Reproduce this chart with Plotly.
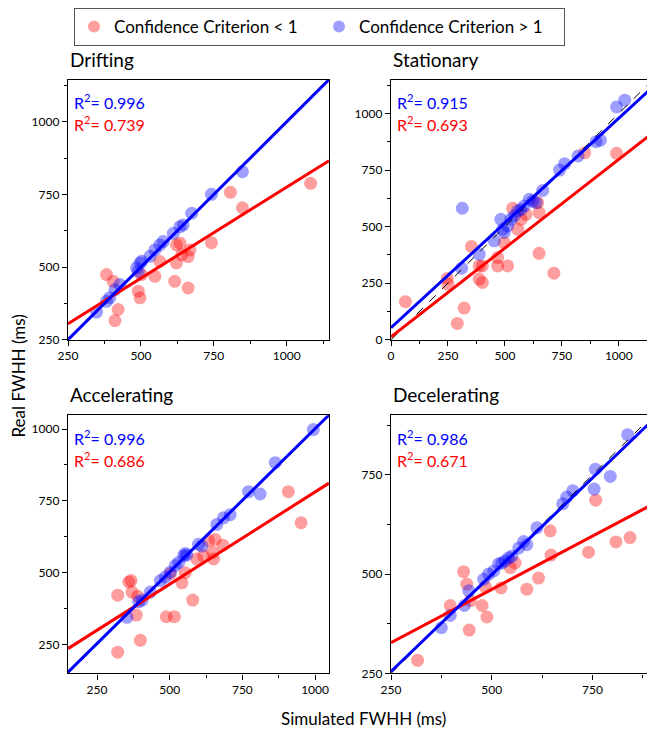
import plotly.graph_objects as go
from plotly.subplots import make_subplots

# ---- data (ms) ----
panel_names = ['Drifting', 'Stationary', 'Accelerating', 'Decelerating']

drift_lo_x = [382, 405, 422, 411, 491, 497, 502, 548, 565, 616, 622, 622, 634, 640, 662, 668, 662, 742, 807, 848, 1082]
drift_lo_y = [474, 451, 354, 316, 417, 394, 474, 468, 519, 451, 514, 576, 582, 542, 536, 559, 428, 584, 757, 704, 788]
drift_hi_x = [348, 382, 393, 411, 428, 491, 497, 485, 503, 531, 548, 565, 577, 611, 634, 645, 674, 742, 848]
drift_hi_y = [345, 382, 394, 422, 440, 485, 514, 497, 520, 537, 559, 576, 588, 616, 639, 645, 685, 750, 828]

stat_lo_x = [63, 247, 250, 291, 321, 353, 387, 401, 387, 401, 468, 468, 512, 497, 534, 556, 571, 593, 644, 650, 650, 715, 850, 990]
stat_lo_y = [168, 271, 246, 72, 140, 412, 326, 326, 268, 253, 363, 326, 326, 429, 581, 488, 532, 554, 606, 562, 382, 294, 826, 824]
stat_hi_x = [313, 310, 387, 453, 482, 490, 497, 512, 526, 541, 556, 571, 585, 607, 622, 637, 666, 740, 762, 821, 900, 919, 990, 1026]
stat_hi_y = [581, 316, 378, 437, 532, 488, 474, 503, 532, 547, 569, 576, 591, 621, 613, 606, 660, 750, 778, 812, 875, 882, 1029, 1059]

acc_lo_x = [321, 321, 359, 367, 370, 390, 385, 399, 488, 516, 502, 542, 553, 579, 593, 616, 634, 648, 656, 683, 651, 908, 952]
acc_lo_y = [422, 224, 468, 473, 433, 418, 353, 265, 347, 347, 496, 465, 500, 405, 548, 559, 611, 571, 616, 596, 548, 782, 674]
acc_hi_x = [353, 393, 405, 433, 468, 485, 502, 519, 531, 548, 553, 559, 599, 611, 662, 685, 708, 771, 811, 863, 994]
acc_hi_y = [345, 399, 405, 433, 473, 485, 502, 525, 536, 559, 567, 562, 599, 593, 668, 691, 702, 782, 774, 883, 998]

dec_lo_x = [316, 397, 430, 438, 444, 447, 476, 488, 484, 523, 546, 558, 587, 616, 645, 647, 740, 758, 808, 843]
dec_lo_y = [283, 421, 506, 475, 359, 433, 421, 392, 468, 465, 516, 528, 462, 490, 609, 548, 555, 686, 581, 592]
dec_hi_x = [375, 397, 432, 443, 480, 492, 505, 517, 525, 533, 542, 550, 567, 579, 587, 612, 676, 686, 701, 754, 757, 794, 837]
dec_hi_y = [365, 396, 421, 458, 487, 500, 508, 526, 528, 533, 541, 545, 566, 582, 574, 617, 677, 694, 710, 714, 764, 746, 851]

lo_x = [drift_lo_x, stat_lo_x, acc_lo_x, dec_lo_x]
lo_y = [drift_lo_y, stat_lo_y, acc_lo_y, dec_lo_y]
hi_x = [drift_hi_x, stat_hi_x, acc_hi_x, dec_hi_x]
hi_y = [drift_hi_y, stat_hi_y, acc_hi_y, dec_hi_y]

# regression lines (slope, intercept) and R^2 as printed
r2_hi = ['0.996', '0.915', '0.996', '0.986']
r2_lo = ['0.739', '0.693', '0.686', '0.671']
hi_slope = [1.0, 0.926, 0.996, 0.975]
hi_icpt = [0, 53, 5, 11]
lo_slope = [0.627, 0.784, 0.641, 0.537]
lo_icpt = [148, 13, 140, 193]

RED = '#ff0000'
BLUE = '#0000ff'
FONT = 'Lato, "Open Sans", sans-serif'

axis_ranges = [[250, 1145], [0, 1150], [150, 1048], [250, 900]]

# page body adds an 8px margin, so the figure is a bit smaller than the window
OFF = 8
W, H = 655 - OFF, 733 - OFF


def fx(px):
    return (px - OFF) / W


def fy(py):
    return 1 - (py - OFF) / H


x_domains = [[fx(68), fx(329)], [fx(391), fx(653)], [fx(68), fx(329)], [fx(391), fx(653)]]
y_domains = [[fy(337), fy(75)], [fy(337), fy(75)], [fy(673), fy(413)], [fy(673), fy(413)]]

fig = make_subplots(rows=2, cols=2)

for i in range(4):
    row, col = i // 2 + 1, i % 2 + 1
    lo, hi = axis_ranges[i]
    first = i == 0

    fig.add_trace(go.Scatter(
        x=lo_x[i], y=lo_y[i], mode='markers', name='Confidence Criterion < 1',
        marker=dict(color=RED, size=13, opacity=0.38, line_width=0),
        showlegend=first, legendgroup='lo'), row=row, col=col)
    fig.add_trace(go.Scatter(
        x=hi_x[i], y=hi_y[i], mode='markers', name='Confidence Criterion > 1',
        marker=dict(color=BLUE, size=13, opacity=0.38, line_width=0),
        showlegend=first, legendgroup='hi'), row=row, col=col)

    # identity line
    fig.add_trace(go.Scatter(
        x=[lo, hi], y=[lo, hi], mode='lines', showlegend=False,
        line=dict(color='black', width=1, dash='dash')), row=row, col=col)
    fig.add_trace(go.Scatter(
        x=[lo, hi], y=[lo_slope[i] * lo + lo_icpt[i], lo_slope[i] * hi + lo_icpt[i]],
        mode='lines', showlegend=False, line=dict(color=RED, width=3)), row=row, col=col)
    fig.add_trace(go.Scatter(
        x=[lo, hi], y=[hi_slope[i] * lo + hi_icpt[i], hi_slope[i] * hi + hi_icpt[i]],
        mode='lines', showlegend=False, line=dict(color=BLUE, width=3)), row=row, col=col)

    ax = dict(
        range=axis_ranges[i], showgrid=False, zeroline=False, automargin=False,
        showline=True, linecolor='black', linewidth=1.3, mirror=True,
        ticks='outside', ticklen=5, tickwidth=1.2, tickcolor='black',
        tick0=0, dtick=250,
        minor=dict(ticks='outside', ticklen=3, tickwidth=1, tickcolor='black', dtick=125),
        tickfont=dict(size=12, color='black', family=FONT),
    )
    fig.update_xaxes(domain=x_domains[i], **ax, row=row, col=col)
    fig.update_yaxes(domain=y_domains[i], **ax, row=row, col=col)

    xr = 'x domain' if i == 0 else f'x{i + 1} domain'
    yr = 'y domain' if i == 0 else f'y{i + 1} domain'
    fig.add_annotation(text=panel_names[i], xref=xr, yref=yr, x=0, y=1,
                       xanchor='left', yanchor='bottom', yshift=7, showarrow=False,
                       font=dict(size=19, color='black', family=FONT))
    fig.add_annotation(text=f'R<sup>2</sup>= {r2_hi[i]}', xref=xr, yref=yr, x=0.015, y=0.915,
                       xanchor='left', yanchor='middle', showarrow=False,
                       font=dict(size=16, color=BLUE, family=FONT))
    fig.add_annotation(text=f'R<sup>2</sup>= {r2_lo[i]}', xref=xr, yref=yr, x=0.015, y=0.83,
                       xanchor='left', yanchor='middle', showarrow=False,
                       font=dict(size=16, color=RED, family=FONT))

fig.add_annotation(text='Real FWHH (ms)', xref='paper', yref='paper', x=fx(18), y=fy(374),
                   textangle=-90, showarrow=False, xanchor='center', yanchor='middle',
                   font=dict(size=17, color='black', family=FONT))
fig.add_annotation(text='Simulated FWHH (ms)', xref='paper', yref='paper', x=fx(363), y=fy(718),
                   showarrow=False, xanchor='center', yanchor='middle',
                   font=dict(size=17, color='black', family=FONT))

fig.update_layout(
    width=W, height=H,
    margin=dict(l=0, r=0, t=0, b=0),
    paper_bgcolor='white', plot_bgcolor='white',
    font=dict(family=FONT, color='black'),
    legend=dict(
        orientation='h', x=fx(74), y=fy(3), xanchor='left', yanchor='top',
        bordercolor='#555', borderwidth=1, bgcolor='white',
        font=dict(size=17, color='black', family=FONT),
        itemsizing='constant', tracegroupgap=0, entrywidth=200,
    ),
)

fig.write_html("out.html")
